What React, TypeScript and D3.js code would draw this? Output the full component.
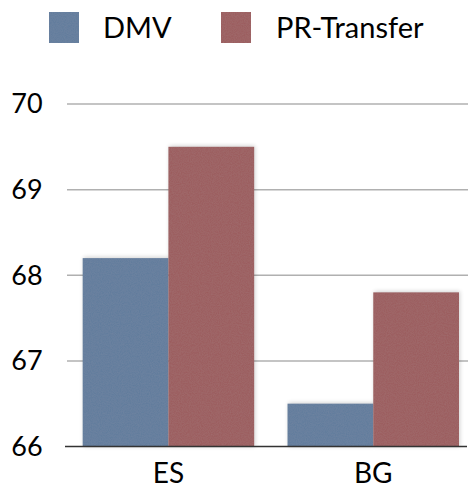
import React from "react";
import * as d3 from "d3";

const categories = ["ES", "BG"];
const seriesNames = ["DMV", "PR-Transfer"];
const dmvValues = [68.2, 66.5];
const prTransferValues = [69.5, 67.8];
const yTicks = [66, 67, 68, 69, 70];
const colors = ["#5f7a9c", "#9b5a5b"];

const W = 468;
const H = 489;
const FONT = "'Lato', 'Open Sans', sans-serif";

export default function App() {
  const x = d3.scaleBand<string>().domain(categories).range([82.7, 459]).paddingInner(0.163).paddingOuter(0);
  const x1 = d3.scaleBand<string>().domain(seriesNames).range([0, x.bandwidth()]).padding(0);
  const y = d3.scaleLinear().domain([66, 70]).range([446.5, 104]);
  const series = [dmvValues, prTransferValues];

  return (
    <svg width={W} height={H} style={{ position: "absolute", left: 0, top: 0 }}>
      <defs>
        <filter id="tex" x="0" y="0" width="100%" height="100%">
          <feTurbulence type="fractalNoise" baseFrequency="0.9" numOctaves="2" seed="3" result="n" />
          <feColorMatrix in="n" type="matrix" values="0 0 0 0 0.5  0 0 0 0 0.5  0 0 0 0 0.5  0 0 0 0.12 0" result="nm" />
          <feComposite in="nm" in2="SourceGraphic" operator="in" result="nc" />
          <feMerge>
            <feMergeNode in="SourceGraphic" />
            <feMergeNode in="nc" />
          </feMerge>
        </filter>
        <filter id="shadow" x="-10%" y="-10%" width="120%" height="120%">
          <feGaussianBlur stdDeviation="2" />
        </filter>
      </defs>
      <rect width={W} height={H} fill="#fff" />
      {/* legend */}
      {seriesNames.map((s, i) => {
        const lx = [49, 221][i];
        return (
          <g key={s}>
            <rect x={lx} y={12} width={30} height={31} fill={colors[i]} filter="url(#tex)" />
            <text x={[103, 276][i]} y={38} fontFamily={FONT} fontSize={29} fill="#000">{s}</text>
          </g>
        );
      })}
      {/* gridlines */}
      {yTicks.filter((t) => t !== 66).map((t) => (
        <line key={t} x1={67} x2={468} y1={y(t)} y2={y(t)} stroke="#b0b0b0" strokeWidth={1.5} />
      ))}
      {/* y labels */}
      {yTicks.map((t) => (
        <text key={t} x={27} y={y(t)} dy="0.35em" textAnchor="middle" fontFamily={FONT} fontSize={27} fill="#000">{t}</text>
      ))}
      {/* bars */}
      {categories.map((c, ci) => (
        <g key={c} transform={`translate(${x(c)},0)`}>
          {seriesNames.map((s, si) => (
            <rect key={s + "sh"} x={(x1(s) as number) + 1} y={y(series[si][ci]) - 1} width={x1.bandwidth()} height={y(66) - y(series[si][ci]) + 1} fill="#000" opacity={0.18} filter="url(#shadow)" />
          ))}
          {seriesNames.map((s, si) => (
            <rect key={s} x={x1(s) as number} y={y(series[si][ci])} width={x1.bandwidth()} height={y(66) - y(series[si][ci])} fill={colors[si]} filter="url(#tex)" />
          ))}
        </g>
      ))}
      {/* axis line */}
      <line x1={65} x2={467} y1={y(66)} y2={y(66)} stroke="#333" strokeWidth={1.5} />
      {/* x labels */}
      {categories.map((c) => (
        <text key={c} x={(x(c) as number) + x.bandwidth() / 2} y={483} textAnchor="middle" fontFamily={FONT} fontSize={28} fill="#000">{c}</text>
      ))}
    </svg>
  );
}
